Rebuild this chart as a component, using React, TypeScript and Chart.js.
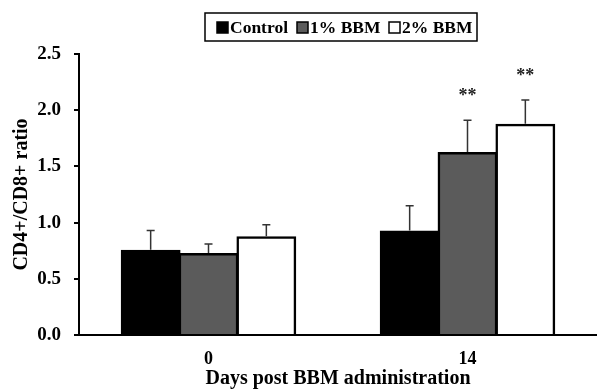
import React, { useEffect, useRef } from "react";
import { Chart, registerables } from "chart.js";

Chart.register(...registerables);

const categories = ["0", "14"];
const seriesNames = ["Control", "1% BBM", "2% BBM"];
const controlValues = [0.75, 0.92];
const bbm1Values = [0.72, 1.62];
const bbm2Values = [0.87, 1.87];
const controlErr = [0.18, 0.23];
const bbm1Err = [0.09, 0.29];
const bbm2Err = [0.11, 0.22];
const significance = [["", ""], ["", "**"], ["", "**"]];
const yTicks = [0, 0.5, 1.0, 1.5, 2.0, 2.5];

const FONT = "'Liberation Serif', 'Times New Roman', serif";
const fills = ["#000000", "#5b5b5b", "#ffffff"];

export default function App() {
  const ref = useRef<HTMLCanvasElement | null>(null);
  useEffect(() => {
    if (!ref.current) return;
    const errs = [controlErr, bbm1Err, bbm2Err];
    const errPlugin = {
      id: "errbars",
      afterDatasetsDraw(chart: any) {
        const ctx = chart.ctx;
        const y = chart.scales.y;
        chart.data.datasets.forEach((ds: any, di: number) => {
          const meta = chart.getDatasetMeta(di);
          meta.data.forEach((bar: any, i: number) => {
            const v = ds.data[i];
            const top = y.getPixelForValue(v + errs[di][i]);
            const base = y.getPixelForValue(v);
            ctx.save();
            ctx.strokeStyle = "#333";
            ctx.lineWidth = 1.5;
            ctx.beginPath();
            ctx.moveTo(bar.x, base - 1);
            ctx.lineTo(bar.x, top);
            ctx.moveTo(bar.x - 4, top);
            ctx.lineTo(bar.x + 4, top);
            ctx.stroke();
            const s = significance[di][i];
            if (s) {
              ctx.fillStyle = "#222";
              ctx.font = `bold 18px ${FONT}`;
              ctx.textAlign = "center";
              ctx.textBaseline = "middle";
              ctx.fillText(s, bar.x, top - 24);
            }
            ctx.restore();
          });
        });
      },
    };
    const legendPlugin = {
      id: "boxlegend",
      afterDraw(chart: any) {
        const ctx = chart.ctx;
        ctx.save();
        ctx.strokeStyle = "#000";
        ctx.lineWidth = 1.5;
        ctx.strokeRect(205, 13, 272, 28);
        ctx.font = `bold 17.5px ${FONT}`;
        ctx.textBaseline = "middle";
        ctx.textAlign = "left";
        const xs = [217, 297, 389];
        seriesNames.forEach((n, i) => {
          const x = xs[i];
          ctx.fillStyle = fills[i];
          ctx.fillRect(x, 22, 11, 11);
          ctx.strokeStyle = "#000";
          ctx.lineWidth = 1.5;
          ctx.strokeRect(x, 22, 11, 11);
          ctx.fillStyle = "#000";
          ctx.fillText(n, x + 13, 28);
        });
        ctx.restore();
      },
    };
    const mk = (label: string, data: number[], i: number) => ({
      label,
      data,
      backgroundColor: fills[i],
      borderColor: "#000",
      borderWidth: 2.5,
      borderSkipped: "bottom",
      inflateAmount: 1,
    });
    const chart = new Chart(ref.current, {
      type: "bar",
      data: {
        labels: categories,
        datasets: [
          mk(seriesNames[0], controlValues, 0),
          mk(seriesNames[1], bbm1Values, 1),
          mk(seriesNames[2], bbm2Values, 2),
        ],
      },
      options: {
        animation: false,
        responsive: false,
        maintainAspectRatio: false,
        layout: { padding: { top: 54, right: 0, left: 0, bottom: 0 } },
        plugins: { legend: { display: false }, tooltip: { enabled: false } },
        datasets: { bar: { categoryPercentage: 0.67, barPercentage: 1.0 } },
        scales: {
          x: {
            grid: { display: false },
            border: { color: "#000", width: 2 },
            ticks: { color: "#000", font: { family: FONT, size: 18, weight: "bold" }, padding: 6 },
            title: {
              display: true,
              text: "Days post BBM administration",
              color: "#000",
              font: { family: FONT, size: 20, weight: "bold" },
              padding: { top: 9, bottom: 0 },
            },
            afterFit: (s: any) => { s.height = 56; },
          },
          y: {
            min: 0,
            max: 2.5,
            afterBuildTicks: (s: any) => { s.ticks = yTicks.map((v) => ({ value: v })); },
            grid: { drawOnChartArea: false, tickLength: 5, color: "#000", lineWidth: 2 },
            border: { color: "#000", width: 2 },
            ticks: {
              color: "#000",
              font: { family: FONT, size: 19, weight: "bold" },
              padding: 13,
              callback: (v: any) => Number(v).toFixed(1),
            },
            title: {
              display: true,
              text: "CD4+/CD8+ ratio",
              color: "#000",
              font: { family: FONT, size: 20, weight: "bold" },
              padding: { top: 10, bottom: 0 },
            },
            afterFit: (s: any) => { s.width = 79; },
          },
        },
      },
      plugins: [errPlugin, legendPlugin],
    } as any);
    return () => chart.destroy();
  }, []);
  return (
    <div style={{ position: "fixed", left: 0, top: 0, width: 597, height: 391, background: "#fff" }}>
      <canvas ref={ref} width={597} height={391} />
    </div>
  );
}
